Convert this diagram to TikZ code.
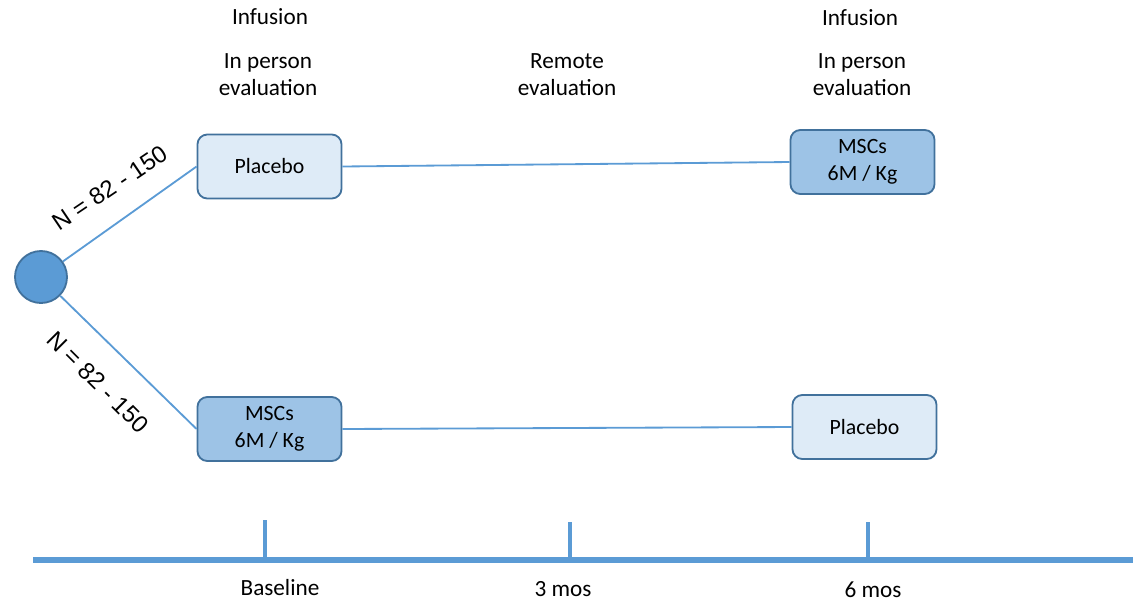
\documentclass[tikz,border=0pt]{standalone}
\usepackage{fontspec}
\setmainfont{Carlito}
\newfontfamily\arialfont{Liberation Sans}
\usetikzlibrary{positioning}
\definecolor{ligne}{HTML}{5B9BD5}
\definecolor{bord}{HTML}{41719C}
\definecolor{clair}{HTML}{DEEBF7}
\definecolor{moyen}{HTML}{9DC3E6}
\tikzset{
  boite/.style={draw=bord, line width=1.3pt, rounded corners=7pt, minimum width=3.6cm, minimum height=1.6cm, align=center, font=\fontsize{15.5}{19}\selectfont},
  titre/.style={align=center, font=\fontsize{16.5}{19.2}\selectfont},
  lien/.style={draw=ligne, line width=1.3pt},
  axe/.style={draw=ligne, line width=3.6pt},
  effectif/.style={font=\arialfont\fontsize{17}{20}\selectfont}
}

\begin{document}
\begin{tikzpicture}[x=0.025cm, y=-0.025cm]
	\useasboundingbox (0,0) rectangle (1137,601);

	\node[circle, draw=bord, fill=ligne, line width=1.3pt, minimum size=1.3cm, inner sep=0pt] (rando) at (41,277) {};

	\node[boite, fill=clair] (plac1) at (269.5,166.5) {Placebo};
	\node[boite, fill=moyen] (msc1)  at (269.5,429) {MSCs\\6M / Kg};
	\node[boite, fill=moyen] (msc2)  at (862.5,162) {MSCs\\6M / Kg};
	\node[boite, fill=clair] (plac2) at (864.5,427) {Placebo};

	\draw[lien] (rando) -- (plac1.west);
	\draw[lien] (rando) -- (msc1.west);
	\draw[lien] (plac1.east) -- (msc2.west);
	\draw[lien] (msc1.east) -- (plac2.west);

	\node[effectif, rotate=34]  (n1) at (110,188) {N = 82 - 150};
	\node[effectif, rotate=-45] (n2) at (98,382) {N = 82 - 150};

	%titres
	\node[titre] (inf1)  at (270,17) {Infusion};
	\node[titre] (eval1) at (268,75) {In person\\evaluation};
	\node[titre] (eval2) at (567,75) {Remote\\evaluation};
	\node[titre] (inf2)  at (860,18) {Infusion};
	\node[titre] (eval3) at (862,75) {In person\\evaluation};

	%axe du temps
	\coordinate (debut) at (33,560);
	\coordinate (fin)   at (1133,560);
	\coordinate (t0) at (265,560);
	\coordinate (t3) at (570,560);
	\coordinate (t6) at (868,560);
	\draw[axe] (debut) -- (fin);
	\draw[lien, line width=2.8pt] (t0) -- ++(0,-40);
	\draw[lien, line width=2.8pt] (t3) -- ++(0,-38);
	\draw[lien, line width=2.8pt] (t6) -- ++(0,-38);

	\node[titre] (base) at (280,588) {Baseline};
	\node[titre] (mois3) at (563,589) {3 mos};
	\node[titre, inner sep=1pt] (mois6) at (873,590) {6 mos};
\end{tikzpicture}
\end{document}
